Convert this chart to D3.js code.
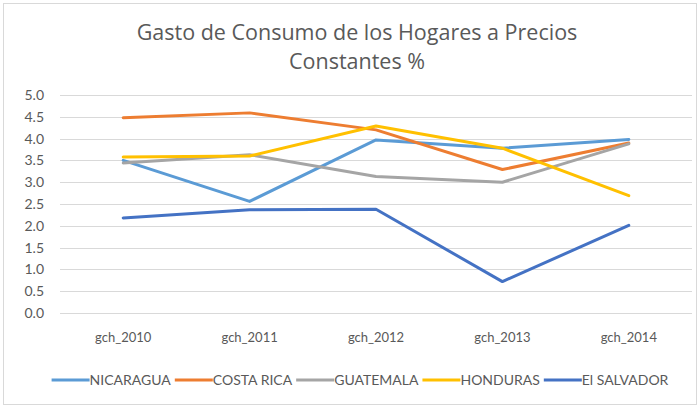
<!DOCTYPE html>
<html>
  <head>
    <meta charset="utf-8">
    <title>Gasto de Consumo de los Hogares</title>
    <script src="https://cdn.jsdelivr.net/npm/d3@7"></script>
    <style>
      body { margin: 0; background: #fff; }
      svg text { font-family: Lato, "Open Sans", sans-serif; fill: #595959; }
    </style>
  </head>
  <body>
    <script>
      var years = ['gch_2010', 'gch_2011', 'gch_2012', 'gch_2013', 'gch_2014'];
      var countries = ['NICARAGUA', 'COSTA RICA', 'GUATEMALA', 'HONDURAS', 'El SALVADOR'];
      var colors = ['#5B9BD5', '#ED7D31', '#A5A5A5', '#FFC000', '#4472C4'];
      var nicaragua = [3.5, 2.56, 3.97, 3.78, 3.98];
      var costaRica = [4.48, 4.59, 4.2, 3.29, 3.9];
      var guatemala = [3.44, 3.63, 3.13, 3.0, 3.88];
      var honduras = [3.58, 3.6, 4.29, 3.78, 2.69];
      var elSalvador = [2.18, 2.37, 2.38, 0.72, 2.01];
      var yTicks = [0, 0.5, 1, 1.5, 2, 2.5, 3, 3.5, 4, 4.5, 5];

      var series = [nicaragua, costaRica, guatemala, honduras, elSalvador];

      var W = 700, H = 405;
      var svg = d3.select('body').append('svg').attr('width', W).attr('height', H);

      svg.append('rect').attr('x', 3.5).attr('y', 3.5).attr('width', W - 7).attr('height', H - 4)
        .attr('fill', '#fff').attr('stroke', '#d9d9d9').attr('stroke-width', 1);

      // title
      svg.append('text').attr('x', 357).attr('y', 40).attr('text-anchor', 'middle')
        .style('font-family', '"Open Sans", sans-serif')
        .style('font-size', '21.5px').text('Gasto de Consumo de los Hogares a Precios');
      svg.append('text').attr('x', 357).attr('y', 69).attr('text-anchor', 'middle')
        .style('font-family', '"Open Sans", sans-serif')
        .style('font-size', '21.5px').text('Constantes %');

      var x = d3.scaleBand().domain(years).range([60, 692]);
      var y = d3.scaleLinear().domain([0, 5]).range([313, 95]);

      // gridlines
      svg.append('g').selectAll('line').data(yTicks).enter().append('line')
        .attr('x1', 60).attr('x2', 692)
        .attr('y1', function(d){ return Math.round(y(d)) + 0.5; })
        .attr('y2', function(d){ return Math.round(y(d)) + 0.5; })
        .attr('stroke', '#d9d9d9').attr('stroke-width', 1);

      // y axis labels
      var yAxis = d3.axisLeft(y).tickValues(yTicks).tickFormat(d3.format('.1f')).tickSize(0).tickPadding(16);
      var gy = svg.append('g').attr('transform', 'translate(60,0)').call(yAxis);
      gy.select('.domain').remove();
      gy.selectAll('text').style('font-size', '14px').style('fill', '#595959');

      // x axis labels
      var xAxis = d3.axisBottom(x).tickSize(0).tickPadding(20);
      var gx = svg.append('g').attr('transform', 'translate(0,313)').call(xAxis);
      gx.select('.domain').remove();
      gx.selectAll('text').style('font-size', '13px').style('fill', '#595959');

      // lines
      var line = d3.line()
        .x(function(d, i){ return x(years[i]) + x.bandwidth() / 2; })
        .y(function(d){ return y(d); });

      svg.append('g').selectAll('path').data(series).enter().append('path')
        .attr('d', line)
        .attr('fill', 'none')
        .attr('stroke', function(d, i){ return colors[i]; })
        .attr('stroke-width', 3)
        .attr('stroke-linejoin', 'round')
        .attr('stroke-linecap', 'round');

      // legend
      var legend = svg.append('g');
      var cx = 0;
      countries.forEach(function(name, i){
        var g = legend.append('g').attr('transform', 'translate(' + cx + ',0)');
        g.append('line').attr('x1', 0).attr('x2', 38).attr('y1', 0).attr('y2', 0)
          .attr('stroke', colors[i]).attr('stroke-width', 3);
        var t = g.append('text').attr('x', 38).attr('y', 5).style('font-size', '14px').text(name);
        cx += 38 + t.node().getComputedTextLength() + 4;
      });
      var legendW = cx - 4;
      legend.attr('transform', 'translate(' + (360 - legendW / 2) + ',380)');
    </script>
  </body>
</html>
